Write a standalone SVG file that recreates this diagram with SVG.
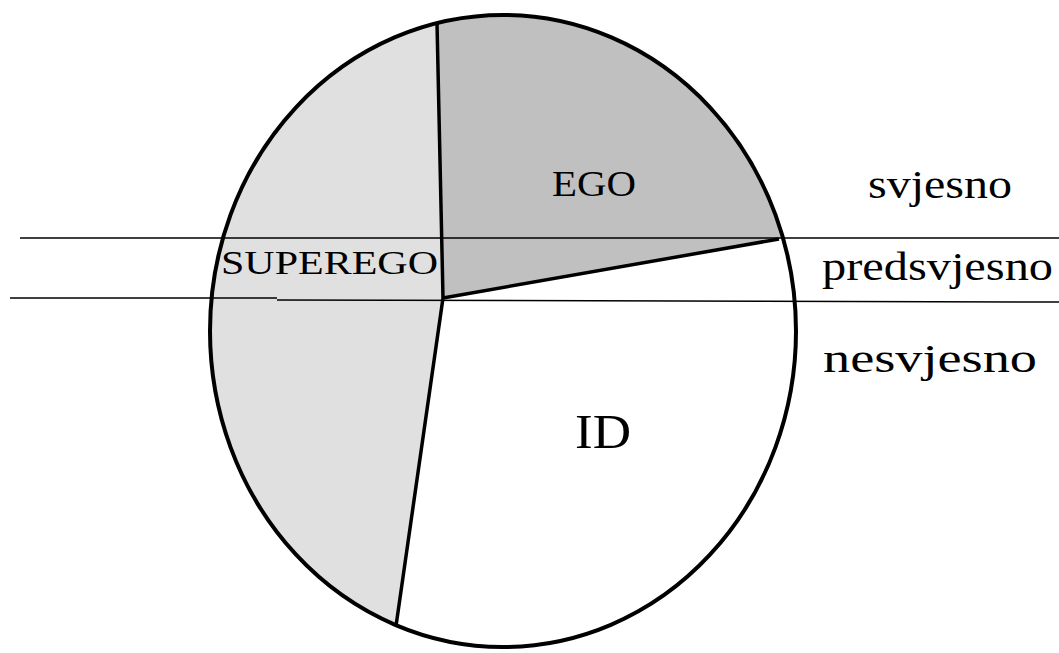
<svg xmlns="http://www.w3.org/2000/svg" width="1059" height="653" viewBox="0 0 1059 653">
<style>
.lbl{font-family:"Liberation Serif","Times New Roman",serif;fill:#000}
.ln{stroke:#000;stroke-width:1.5;fill:none}
.div{stroke:#000;stroke-width:3.5;fill:none;stroke-linejoin:round}
</style>
<defs>
<clipPath id="ell"><ellipse cx="503" cy="331" rx="293" ry="316"/></clipPath>
</defs>
<rect width="1059" height="653" fill="#fff"/>
<g id="psyche">
<ellipse cx="503" cy="331" rx="293" ry="316" fill="#fff"/>
<g clip-path="url(#ell)">
<polygon id="ego-area" points="443,298 436.6,0 900,0 900,217.5" fill="#c0c0c0"/>
<polygon id="superego-area" points="443,298 436.6,0 100,0 100,653 392,653" fill="#e0e0e0"/>
</g>
</g>
<g id="connectors">
<line class="ln" x1="20" y1="238" x2="1059" y2="238"/>
<line class="ln" x1="10" y1="298" x2="277" y2="298"/>
<line class="ln" x1="277" y1="300" x2="1059" y2="302"/>
<path class="div" d="M437,23 L443,298 L779,239 M443,298 L396,626"/>
<ellipse cx="503" cy="331" rx="293" ry="316" fill="none" stroke="#000" stroke-width="4"/>
</g>
<g id="ego"><text class="lbl" x="552" y="196" font-size="35" textLength="84" lengthAdjust="spacingAndGlyphs">EGO</text></g>
<g id="superego"><text class="lbl" x="221" y="274" font-size="34" textLength="217" lengthAdjust="spacingAndGlyphs">SUPEREGO</text></g>
<g id="id"><text class="lbl" x="575" y="448" font-size="48" textLength="56" lengthAdjust="spacingAndGlyphs">ID</text></g>
<g id="svjesno"><text class="lbl" x="868" y="198" font-size="40" textLength="144" lengthAdjust="spacingAndGlyphs">svjesno</text></g>
<g id="predsvjesno"><text class="lbl" x="822" y="280" font-size="40" textLength="231" lengthAdjust="spacingAndGlyphs">predsvjesno</text></g>
<g id="nesvjesno"><text class="lbl" x="823" y="372" font-size="40" textLength="214" lengthAdjust="spacingAndGlyphs">nesvjesno</text></g>
</svg>
